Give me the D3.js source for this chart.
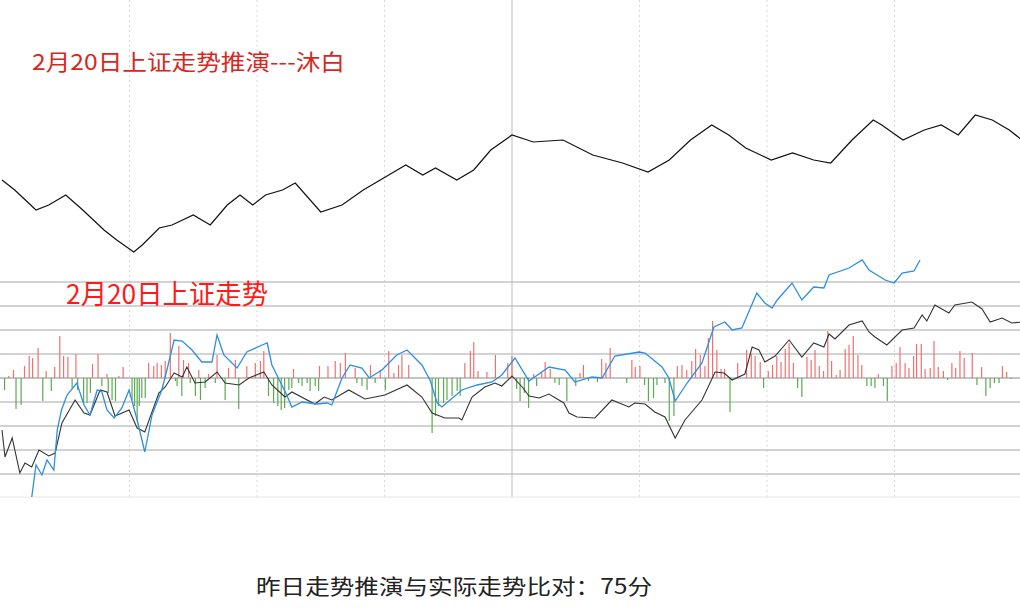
<!DOCTYPE html>
<html><head><meta charset="utf-8">
<script src="https://cdn.jsdelivr.net/npm/d3@7/dist/d3.min.js"></script>
<style>body{margin:0;background:#fff}svg{display:block}</style></head>
<body><svg id="c" width="1020" height="616"></svg>
<script>
const titleTop = "2月20日上证走势推演---沐白";
const titleMid = "2月20日上证走势";
const footer = "昨日走势推演与实际走势比对：75分";
const gridMinutes = [30,60,90,120,150,180,210];
const gridLevels = [96,72,48,24,0,-24,-48,-72,-96];
// forecast line (top panel): [minute, points]
const forecast = [[0,0],[3,-10],[8,-30],[11,-25],[15,-15],[19,-30],[24,-50],[27,-60],[31,-72],[33,-65],[37,-48],[40,-45],[45,-35],[49,-45],[53,-25],[56,-15],[59,-25],[62,-15],[66,-10],[69,-3],[75,-32],[80,-25],[85,-10],[91,5],[95,15],[99,5],[102,12],[107,0],[111,10],[115,30],[120,45],[125,38],[132,40],[139,25],[146,17],[152,8],[157,20],[162,40],[167,55],[171,45],[175,32],[181,20],[186,27],[191,20],[195,17],[200,40],[205,60],[207,55],[212,40],[217,50],[221,55],[225,45],[229,65],[233,60],[237,50],[240,40]];
// actual (blue) line
const blue = [[7,-119],[8,-87],[9.4,-97],[10.6,-82],[12.2,-92],[13,-52],[14,-32],[15.3,-17],[17.6,-5],[19.3,-27],[20.7,-37],[22.4,-12],[23.5,-14],[24.7,-32],[26.4,-40],[28.2,-30],[29.9,-12],[31.8,-42],[33.6,-74],[35.3,-37],[37.6,-12],[38.8,8],[40.5,38],[42.4,37],[44.7,28],[47,16],[49.4,16],[50.6,43],[52.2,23],[55.3,10],[57.6,26],[61.2,33],[62.4,35],[63.5,13],[67,-17],[68.2,-29],[70.6,-24],[74.1,-26],[76.5,-25],[77.6,-27],[80,0],[81.9,13],[84.7,10],[86.4,0],[89.4,8],[92.9,23],[95.3,28],[98.8,13],[100.7,-2],[102.4,-25],[103.5,-29],[108.2,-12],[111.8,-7],[115.3,-4],[117.6,3],[120.7,20],[124,-3],[128.7,11],[132.5,8],[134.8,-4],[138.8,1],[141.2,0],[144.2,22],[149.9,26],[151.3,25],[155.3,11],[156.9,0],[158.4,-23],[161.2,-5],[164.7,15],[167.5,51],[170.1,56],[171.8,48],[174.1,50],[177.6,85],[179.5,75],[181.2,70],[182.4,78],[185.9,95],[188.2,78],[191,91],[193.4,90],[194.6,103],[199.3,110],[202.4,118],[204,108],[207.8,98],[209.9,95],[211.8,105],[214.6,107],[216,118]];
// average (black) line
const black = [[0,-52],[0.7,-79],[2.4,-60],[4.2,-95],[5.4,-85],[7,-89],[8.7,-72],[11,-78],[12.5,-75],[14.1,-45],[17.2,-22],[19.3,-35],[20.7,-37],[23.1,-12],[24.7,-14],[26.6,-38],[29.9,-32],[31.8,-50],[33.6,-54],[36.9,-15],[38.4,-9],[40.5,5],[42.4,1],[43.5,11],[45.4,-5],[47.8,-4],[50.6,6],[52.5,-5],[55.8,-7],[58.1,0],[61.6,6],[63.5,-7],[66.6,-19],[68.2,-14],[73.6,-26],[75.8,-19],[77.6,-22],[81.6,-12],[85.4,-21],[90.1,-17],[95.3,-7],[98.8,-19],[101.2,-35],[104.2,-40],[107.5,-40],[108.2,-42],[110.6,-19],[113.6,-9],[116,-5],[117.6,-8],[120,2],[122.4,-9],[124,-18],[126.4,-20],[128.7,-16],[132.2,-25],[133.4,-35],[135.3,-39],[139.5,-40],[143.5,-22],[147.5,-29],[148.9,-25],[151.3,-26],[153.6,-34],[156,-39],[158.4,-60],[160.7,-42],[164.7,-22],[167.8,6],[169.9,5],[171.8,-2],[174.8,4],[176.5,31],[178.1,28],[179.5,16],[181.9,22],[185.2,38],[188.2,21],[191,35],[193.4,31],[194.6,44],[196,39],[199.3,53],[202.4,57],[204,46],[205.4,41],[208.2,33],[211.8,48],[214.6,50],[216.5,63],[217.6,57],[219.5,73],[222.8,65],[224.2,73],[228.2,76],[230.6,69],[232.5,56],[235.3,60],[237.6,55],[240,56]];
// bars: [minute, value]
const bars = [[1.6,2],[2.7,8],[5.3,12],[6.4,22],[7.2,20],[8.5,30],[10.4,7],[12.4,11],[13.6,42],[14.5,22],[15.5,21],[17.4,24],[21.3,14],[22.6,24],[24.7,4],[27.5,2],[28.5,11],[34.5,15],[35.7,12],[36.5,15],[37.5,13],[38.4,17],[39.6,45],[41.6,32],[42.7,18],[43.9,15],[46.3,8],[48.6,4],[50.6,23],[53.3,10],[54.9,18],[57.6,12],[59.6,15],[60.8,17],[61.6,27],[68.6,9],[74.7,12],[76.7,12],[78.4,17],[79.6,15],[80.8,25],[83.1,10],[86.7,13],[89,8],[91,27],[92.2,5],[93.3,13],[94.1,23],[95.7,13],[108.9,15],[110.2,27],[111,36],[112,7],[114.1,6],[116.1,23],[119,15],[120,22],
[0.6,-12],[3.3,-31],[4.5,-27],[9.6,-23],[11.6,-13],[16.5,-10],[17.8,-12],[19.2,-25],[20,-25],[20.8,-15],[23.5,-8],[25,-15],[25.9,-22],[26.7,-23],[30.6,-22],[31.2,-28],[31.8,-43],[32.3,-28],[32.9,-20],[33.7,-20],[40.8,-3],[41.2,-8],[42.3,-18],[44.3,-5],[45.5,-18],[46.7,-22],[47.8,-10],[50.2,-5],[52.5,-22],[55.7,-31],[62.7,-18],[63.9,-25],[64.9,-28],[65.7,-32],[66.5,-30],[67.5,-12],[68.2,-10],[69.8,-5],[70.6,-8],[71.8,-5],[72.5,-13],[73.7,-8],[74.5,-13],[83.5,-5],[84.7,-8],[85.9,-12],[87.8,-5],[90.2,-12],[101.2,-55],[102,-38],[102.7,-28],[103.9,-25],[104.7,-22],[105.9,-18],[107.1,-13],[107.8,-18],
[125.1,4],[127,5],[127.8,16],[129,9],[136,5],[136.8,13],[141.1,19],[142.1,15],[143.1,30],[148.2,18],[149,11],[150.1,12],[158.9,12],[160,13],[161.1,8],[162.3,17],[163.2,29],[164.3,23],[165.4,12],[166.2,40],[167.2,57],[168.2,28],[169.2,9],[170,9],[173.1,15],[175.2,28],[176.3,24],[177.2,22],[178.4,16],[180.3,7],[181.3,13],[182.3,22],[183.3,16],[184.3,29],[185.2,35],[186.2,15],[189.4,21],[190.4,18],[191.3,28],[192.3,12],[193.3,7],[194.3,47],[195.2,17],[196.3,3],[197.2,8],[198.4,29],[199.3,33],[200.3,42],[201.4,23],[202.3,13],[206.2,4],[209.4,12],[210.4,15],[211.3,31],[212.5,15],[213.4,10],[214.5,22],[215.2,34],[216.3,34],[217.2,9],[218.4,10],[219.3,37],[220.3,11],[221.5,7],[223.5,15],[224.4,10],[225.4,27],[226.4,20],[228.3,25],[230.5,11],[235.4,12],[236.4,6],
[121.1,-11],[121.9,-23],[122.9,-15],[123.9,-30],[125.8,-8],[130.1,-5],[131.1,-7],[132.9,-23],[135,-8],[138,-3],[140.1,-4],[147,-5],[151.2,-7],[152.1,-23],[153.3,-20],[154.1,-7],[156,-5],[157,-43],[158.1,-38],[171.3,-34],[179.2,-10],[187.2,-10],[188.2,-19],[203.5,-8],[204.5,-8],[205.4,-10],[207.4,-8],[208.3,-23],[222.5,-2],[229.4,-7],[231.5,-18],[232.5,-10],[233.5,-5],[234.6,-5],[237.4,-1]];

const svg = d3.select("#c");
const x = d3.scaleLinear().domain([0,240]).range([2,1022]);
const yTop = d3.scaleLinear().domain([180,-70]).range([0,250]);
const yLow = d3.scaleLinear().domain([128,-119]).range([250,497]);

svg.append("g").selectAll("line").data(gridMinutes).join("line")
  .attr("x1",d=>x(d)).attr("x2",d=>x(d)).attr("y1",0).attr("y2",497)
  .attr("stroke",d=>d===120?"#d0d0d0":"#d8d8d8").attr("stroke-width",d=>d===120?1.5:1)
  .attr("stroke-dasharray",d=>d===120?null:"2,3");
svg.append("g").selectAll("line").data(gridLevels).join("line")
  .attr("x1",0).attr("x2",1020).attr("y1",d=>yLow(d)).attr("y2",d=>yLow(d))
  .attr("stroke","#c4c4c4").attr("stroke-width",d=>d===0?2:1.5);
svg.append("line").attr("x1",0).attr("x2",1020).attr("y1",yLow(-119)).attr("y2",yLow(-119)).attr("stroke","#e6e6e6");

svg.append("g").selectAll("line").data(bars).join("line")
  .attr("x1",d=>x(d[0])).attr("x2",d=>x(d[0]))
  .attr("y1",yLow(0)).attr("y2",d=>yLow(d[1]))
  .attr("stroke",d=>d[1]>0?"#f07070":"#5aaa50").attr("stroke-width",1.2);

const line = y => d3.line().x(d=>x(d[0])).y(d=>y(d[1]));
svg.append("path").datum(forecast).attr("d",line(yTop)).attr("fill","none").attr("stroke","#111").attr("stroke-width",1.2);
svg.append("path").datum(black).attr("d",line(yLow)).attr("fill","none").attr("stroke","#333").attr("stroke-width",1.1);
svg.append("path").datum(blue).attr("d",line(yLow)).attr("fill","none").attr("stroke","#2e8ee0").attr("stroke-width",1.3);

function txt(s, x0, y0, size, w, fill){
  svg.append("text").attr("x",x0).attr("y",y0).text(s)
    .attr("font-family","Noto Sans CJK SC").attr("font-size",size).attr("fill",fill)
    .attr("textLength",w).attr("lengthAdjust","spacingAndGlyphs");
}
txt(titleTop, 32, 70, 22, 313, "#d8281e");
txt(titleMid, 66, 304, 27, 202, "#ff1a1a");
txt(footer, 256, 594, 21, 396, "#222");
</script></body></html>
